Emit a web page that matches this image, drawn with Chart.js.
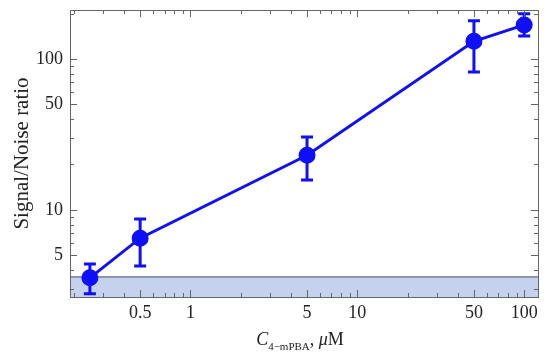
<!DOCTYPE html>
<html>
<head>
    <title>Signal/Noise ratio</title>
    <style>
        body, html {
            margin: 0;
            padding: 0;
            background: white;
        }
        #wrap {
            position: relative;
            width: 550px;
            height: 360px;
        }
        #xtitle {
            position: absolute;
            left: 0;
            width: 550px;
            top: 329px;
            text-align: center;
            font-family: "Liberation Serif", "DejaVu Serif", serif;
            font-size: 18px;
            color: #222;
            padding-left: 50px;
            box-sizing: border-box;
        }
        #xtitle sub {
            font-size: 11px;
        }
    </style>
</head>
<body>
    <div id="wrap">
        <canvas id="chart" width="550" height="360"></canvas>
        <div id="xtitle"><i>C</i><sub>4−mPBA</sub>, <i>μ</i>M</div>
    </div>

    <script src="https://cdn.jsdelivr.net/npm/chart.js"></script>
    <script>
        // data
        const concentration = [0.25, 0.5, 5, 50, 100];
        const snRatio = [3.55, 6.5, 23, 131, 168];
        const errLow = [2.78, 4.26, 15.8, 82, 142];
        const errHigh = [4.39, 8.7, 30.4, 179, 199];
        const noiseLevel = 3.6;

        const xRange = [0.19, 121];
        const yRange = [2.65, 211];
        const xMajor = [0.5, 1, 5, 10, 50, 100];
        const xMinor = [0.2, 0.3, 0.4, 0.6, 0.7, 0.8, 0.9, 2, 3, 4, 6, 7, 8, 9, 20, 30, 40, 60, 70, 80, 90];
        const yMajor = [5, 10, 50, 100];
        const yMinor = [3, 4, 6, 7, 8, 9, 20, 30, 40, 60, 70, 80, 90, 200];

        let blue = 'rgb(15, 15, 248)';
        let serif = '"Liberation Serif", "DejaVu Serif", serif';

        let frameTicks = {
            id: 'frameTicks',
            afterDraw(chart) {
                let ctx = chart.ctx;
                let a = chart.chartArea;
                let x = chart.scales.x, y = chart.scales.y;
                ctx.save();
                ctx.strokeStyle = '#666';
                ctx.lineWidth = 1;
                ctx.beginPath();
                function xt(v, len) {
                    let p = Math.round(x.getPixelForValue(v)) + 0.5;
                    ctx.moveTo(p, a.bottom); ctx.lineTo(p, a.bottom - len);
                    ctx.moveTo(p, a.top); ctx.lineTo(p, a.top + len);
                }
                function yt(v, len) {
                    let p = Math.round(y.getPixelForValue(v)) + 0.5;
                    ctx.moveTo(a.left, p); ctx.lineTo(a.left + len, p);
                    ctx.moveTo(a.right, p); ctx.lineTo(a.right - len, p);
                }
                xMajor.forEach(v => xt(v, 7));
                xMinor.forEach(v => xt(v, 4));
                yMajor.forEach(v => yt(v, 7));
                yMinor.forEach(v => yt(v, 4));
                ctx.stroke();
                ctx.strokeRect(Math.round(a.left) + 0.5, Math.round(a.top) + 0.5,
                    Math.round(a.right - a.left), Math.round(a.bottom - a.top));
                ctx.restore();
            }
        };

        let errorBars = {
            id: 'errorBars',
            afterDatasetsDraw(chart) {
                let ctx = chart.ctx;
                let x = chart.scales.x, y = chart.scales.y;
                ctx.save();
                ctx.strokeStyle = blue;
                ctx.lineWidth = 3;
                concentration.forEach((c, i) => {
                    let px = x.getPixelForValue(c);
                    let lo = y.getPixelForValue(errLow[i]);
                    let hi = y.getPixelForValue(errHigh[i]);
                    ctx.beginPath();
                    ctx.moveTo(px, lo); ctx.lineTo(px, hi);
                    ctx.moveTo(px - 6, lo); ctx.lineTo(px + 6, lo);
                    ctx.moveTo(px - 6, hi); ctx.lineTo(px + 6, hi);
                    ctx.stroke();
                });
                ctx.restore();
            }
        };

        new Chart(document.getElementById('chart'), {
            type: 'scatter',
            data: {
                datasets: [{
                    data: concentration.map((c, i) => ({x: c, y: snRatio[i]})),
                    showLine: true,
                    borderColor: blue,
                    backgroundColor: blue,
                    borderWidth: 3,
                    pointRadius: 7,
                    order: 0
                }, {
                    data: [{x: xRange[0], y: noiseLevel}, {x: xRange[1], y: noiseLevel}],
                    showLine: true,
                    fill: 'start',
                    borderColor: 'rgb(60, 70, 100)',
                    backgroundColor: 'rgb(196, 210, 238)',
                    borderWidth: 1,
                    pointRadius: 0,
                    order: 1
                }]
            },
            options: {
                responsive: false,
                animation: false,
                events: [],
                layout: { padding: { left: 8, top: 10, right: 12, bottom: 0 } },
                plugins: { legend: { display: false }, tooltip: { enabled: false } },
                scales: {
                    x: {
                        type: 'logarithmic',
                        min: xRange[0],
                        max: xRange[1],
                        afterBuildTicks: s => { s.ticks = xMajor.map(v => ({value: v})); },
                        afterFit: s => { s.height = 63; s.paddingLeft = 0; s.paddingRight = 0; },
                        grid: { display: false, drawTicks: false },
                        border: { display: false },
                        ticks: {
                            callback: v => String(v),
                            autoSkip: false,
                            maxRotation: 0,
                            padding: 5,
                            color: '#222',
                            font: { family: serif, size: 18 }
                        }
                    },
                    y: {
                        type: 'logarithmic',
                        min: yRange[0],
                        max: yRange[1],
                        afterBuildTicks: s => { s.ticks = yMajor.map(v => ({value: v})); },
                        afterFit: s => { s.width = 62; s.paddingTop = 0; s.paddingBottom = 0; },
                        grid: { display: false, drawTicks: false },
                        border: { display: false },
                        title: {
                            display: true,
                            text: 'Signal/Noise ratio',
                            color: '#222',
                            padding: { top: 2, bottom: 0 },
                            font: { family: serif, size: 21 }
                        },
                        ticks: {
                            callback: v => String(v),
                            autoSkip: false,
                            padding: 7,
                            color: '#222',
                            font: { family: serif, size: 18 }
                        }
                    }
                }
            },
            plugins: [frameTicks, errorBars]
        });
    </script>
</body>
</html>
